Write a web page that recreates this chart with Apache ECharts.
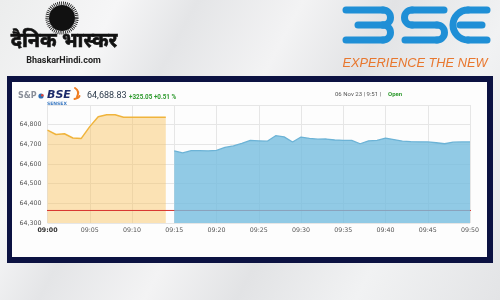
<!DOCTYPE html>
<html><head><meta charset="utf-8">
<script src="https://cdn.jsdelivr.net/npm/echarts@6/dist/echarts.min.js"></script>
<style>
html,body{margin:0;padding:0;}
body{width:500px;height:300px;overflow:hidden;background:linear-gradient(118deg,#eceded 0%,#f6f6f7 18%,#e4e5e7 30%,#f3f3f4 46%,#e2e3e5 60%,#f1f2f3 78%,#e3e4e6 100%);}
#c{width:500px;height:300px;}
</style></head>
<body><div id="c"></div>
<script>
// Pre-open session (minutes after 09:00)
const preMinutes = [0,1,2,3,4,5,6,7,8,9,10,11,12,13,14];
const preValues  = [64772,64750,64754,64732,64730,64790,64840,64850,64850,64838,64838,64838,64838,64838,64838];
// Regular session
const mktMinutes = [15,16,17,18,19,20,21,22,23,24,25,26,27,28,29,30,31,32,33,34,35,36,37,38,39,40,41,42,43,44,45,46,47,48,49,50];
const mktValues  = [64667,64656,64668,64668,64667,64669,64684,64692,64705,64720,64718,64716,64744,64738,64712,64737,64730,64726,64727,64722,64720,64720,64703,64718,64720,64732,64724,64716,64714,64713,64712,64708,64703,64711,64712,64712];
const prevClose = 64363.78;
const prevCloseSpan = [-0.5, 50.6];
const yMin = 64300, yMax = 64900, yStep = 100;
const lastPrice = '64,688.83';
const change = '+325.05 +0.51 %';
const stamp = '06 Nov 23 | 9:51 | ';
const status = 'Open';

const chart = echarts.init(document.getElementById('c'), null, {renderer:'canvas'});
const pad = m => (m < 10 ? '0' + m : '' + m);
const fmtY = v => v.toLocaleString('en-US');
const PI = Math.PI;
const bseStroke = {fill: null, stroke: '#1f8fd6', lineWidth: 7, lineCap: 'round'};
const L = (x1, y1, x2, y2) => ({type: 'line', z: 5, shape: {x1, y1, x2, y2}, style: bseStroke});
const A = (cx, cy, r, s, e) => ({type: 'arc', z: 5, shape: {cx, cy, r, startAngle: s, endAngle: e, clockwise: true}, style: bseStroke});

const option = {
  animation: false,
  backgroundColor: 'transparent',
  grid: {left: 47.5, right: 30, top: 105, bottom: 77, containLabel: false},
  xAxis: {
    type: 'value', min: 0, max: 50, interval: 5,
    axisLine: {show: false}, axisTick: {show: false},
    splitLine: {show: true, lineStyle: {color: '#e6e6e6', width: 1}},
    axisLabel: {
      margin: 4, fontSize: 6.3, fontFamily: 'DejaVu Sans', color: '#555',
      formatter: v => (v === 0 ? '{b|09:' + pad(v) + '}' : '09:' + pad(v)),
      rich: {b: {fontWeight: 'bold', fontSize: 6.3, fontFamily: 'DejaVu Sans', color: '#333'}}
    }
  },
  yAxis: {
    type: 'value', min: yMin, max: yMax, interval: yStep,
    axisLine: {show: false}, axisTick: {show: false},
    splitLine: {show: true, lineStyle: {color: '#e6e6e6', width: 1}},
    axisLabel: {
      margin: 6, fontSize: 6.3, fontFamily: 'DejaVu Sans', color: '#555',
      formatter: v => (v >= yMax ? '' : fmtY(v))
    }
  },
  series: [
    {
      type: 'line', data: preMinutes.map((m, i) => [m, preValues[i]]),
      symbol: 'none', z: 2,
      lineStyle: {color: '#f0b43c', width: 1.5},
      areaStyle: {color: 'rgba(247,190,86,0.62)', origin: 'start'}
    },
    {
      type: 'line', data: prevCloseSpan.map(m => [m, prevClose]),
      symbol: 'none', clip: false, z: 3, silent: true,
      lineStyle: {color: '#d8322c', width: 1}
    },
    {
      type: 'line', data: mktMinutes.map((m, i) => [m, mktValues[i]]),
      symbol: 'none', z: 4,
      lineStyle: {color: '#6cb3d6', width: 1.3},
      areaStyle: {color: 'rgba(118,189,222,0.8)', origin: 'start', opacity: 1}
    }
  ],
  graphic: [
    // navy frame + white panel
    {type: 'rect', z: -10, shape: {x: 7, y: 76, width: 486, height: 187}, style: {fill: '#0c1242'}},
    {type: 'rect', z: -9, shape: {x: 12, y: 82, width: 475, height: 175}, style: {fill: '#fdfdfd'}},
    // Bhaskar sun logo
    {type: 'circle', z: 5, shape: {cx: 62, cy: 18, r: 13}, style: {fill: '#111'}},
    {type: 'circle', z: 5, shape: {cx: 62, cy: 18, r: 14.8}, style: {fill: null, stroke: '#111', lineWidth: 3.6, lineDash: [0.8, 1.1]}},
    {type: 'text', z: 5, x: 64, y: 43, style: {text: 'दैनिक भास्कर', font: 'bold 20px "Noto Sans Devanagari","Noto Sans","Lohit Devanagari",sans-serif', fill: '#111', stroke: '#111', lineWidth: 0.6, textAlign: 'center', textVerticalAlign: 'middle'}},
    {type: 'text', z: 5, x: 63.5, y: 61, style: {text: 'BhaskarHindi.com', font: 'bold 9px Roboto,sans-serif', fill: '#222', textAlign: 'center', textVerticalAlign: 'middle'}},
    // BSE logo
    L(346, 10, 383, 10), A(383, 17.5, 7.5, -PI / 2, PI / 2), L(358, 25, 383, 25), A(383, 32.5, 7.5, -PI / 2, PI / 2), L(346, 40, 383, 40),
    L(412, 10, 444, 10), A(412, 17.5, 7.5, PI / 2, 3 * PI / 2), L(412, 25, 437, 25), A(437, 32.5, 7.5, -PI / 2, PI / 2), L(405, 40, 437, 40),
    L(468, 10, 487, 10), A(468, 25, 15, PI / 2, 3 * PI / 2), L(468, 40, 487, 40), L(460, 25, 482, 25),
    {type: 'text', z: 5, x: 415, y: 63.5, style: {text: 'EXPERIENCE THE NEW', font: 'italic 12.8px "Liberation Sans",Arial,sans-serif', fill: '#e8772e', textAlign: 'center', textVerticalAlign: 'middle'}},
    // chart header
    {type: 'text', z: 5, x: 18, y: 96, style: {text: 'S&P', font: 'bold 8px "DejaVu Sans",sans-serif', fill: '#8a8f99', textVerticalAlign: 'middle'}},
    {type: 'circle', z: 5, shape: {cx: 41, cy: 96, r: 2.6}, style: {fill: '#2f6fb5'}},
    {type: 'circle', z: 5, shape: {cx: 42.3, cy: 95.2, r: 1.3}, style: {fill: '#e0463a'}},
    {type: 'text', z: 5, x: 47, y: 95, style: {text: 'BSE', font: 'italic bold 11px "DejaVu Sans",sans-serif', fill: '#1c2a6a', textVerticalAlign: 'middle'}},
    {type: 'text', z: 5, x: 47, y: 103.5, style: {text: 'SENSEX', font: 'bold 4.5px "DejaVu Sans",sans-serif', fill: '#3a79c2', textVerticalAlign: 'middle'}},
    {type: 'bezierCurve', z: 5, shape: {x1: 75, y1: 88, cpx1: 80, cpy1: 91, x2: 77, y2: 97}, style: {fill: null, stroke: '#ef7d22', lineWidth: 2, lineCap: 'round'}},
    {type: 'bezierCurve', z: 5, shape: {x1: 74.5, y1: 99, cpx1: 79, cpy1: 98, x2: 79.5, y2: 96}, style: {fill: null, stroke: '#ef7d22', lineWidth: 2, lineCap: 'round'}},
    {type: 'text', z: 5, x: 87, y: 96, style: {text: lastPrice, font: '9px Roboto,sans-serif', fill: '#2c3b4c', textVerticalAlign: 'middle'}},
    {type: 'text', z: 5, x: 129, y: 97, style: {text: change, font: 'bold 6.3px Roboto,sans-serif', fill: '#2e9a2e', textVerticalAlign: 'middle'}},
    {type: 'text', z: 5, x: 335, y: 94.5, style: {text: stamp, font: '6px Roboto,sans-serif', fill: '#555', textVerticalAlign: 'middle'}},
    {type: 'text', z: 5, x: 388, y: 94.5, style: {text: status, font: 'bold 6px Roboto,sans-serif', fill: '#2e9a2e', textVerticalAlign: 'middle'}}
  ]
};
chart.setOption(option);
</script>
</body></html>
